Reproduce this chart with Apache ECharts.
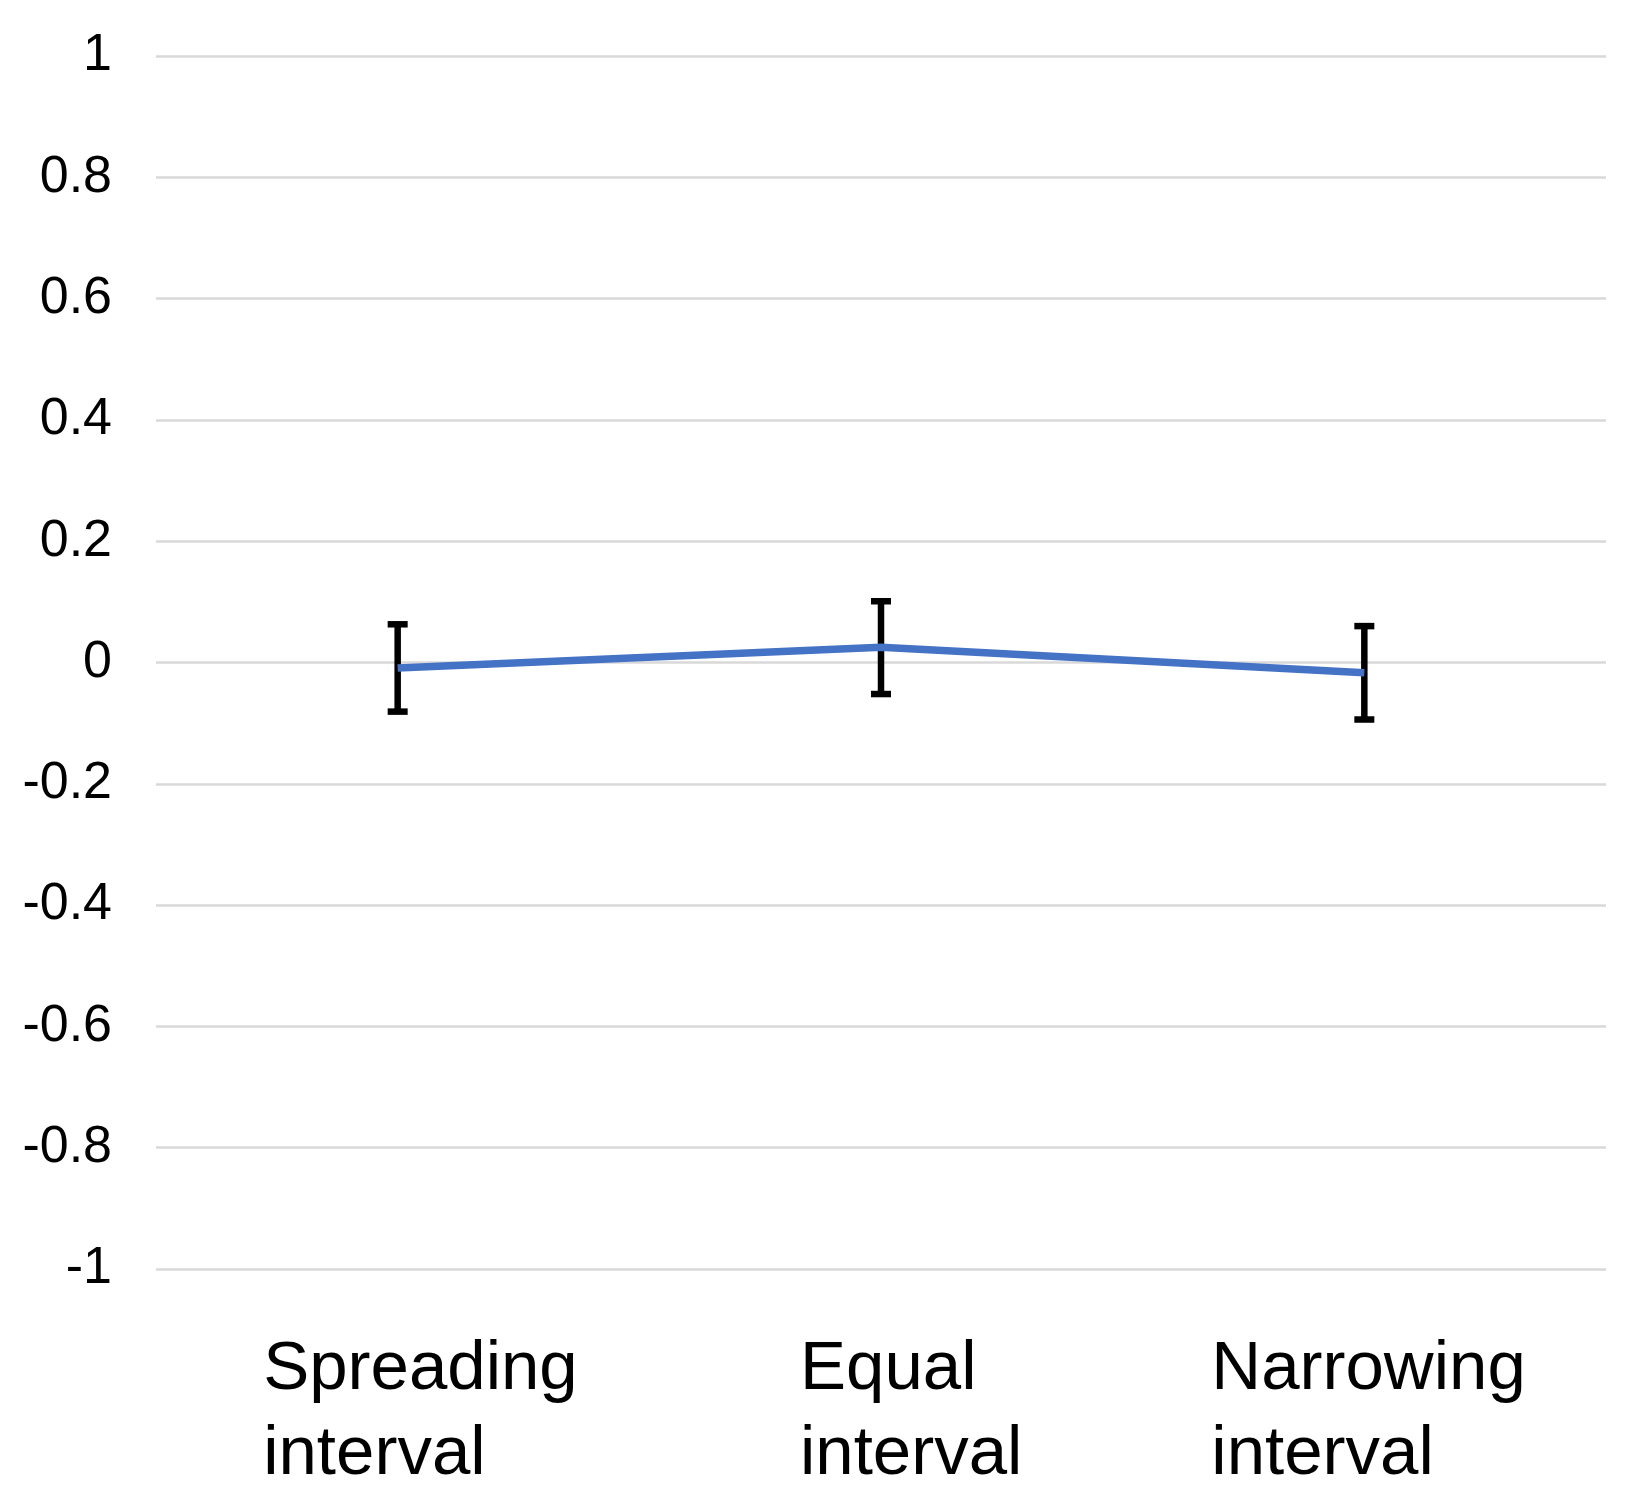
<!DOCTYPE html>
<html>
<head>
<meta charset="utf-8">
<script src="https://cdn.jsdelivr.net/npm/echarts@6/dist/echarts.min.js"></script>
<style>
html,body{margin:0;padding:0;background:#fff;}
#chart{width:1632px;height:1498px;}
</style>
</head>
<body>
<div id="chart"></div>
<script>
const categories = ['Spreading interval', 'Equal interval', 'Narrowing interval'];
const means = [-0.009, 0.025, -0.017];
const lowerBounds = [-0.081, -0.052, -0.094];
const upperBounds = [0.063, 0.101, 0.060];
const yTicks = [-1, -0.8, -0.6, -0.4, -0.2, 0, 0.2, 0.4, 0.6, 0.8, 1];

const labelBlockWidths = [269, 162, 306];

const chart = echarts.init(document.getElementById('chart'), null, {renderer: 'canvas'});

const rich = {};
labelBlockWidths.forEach((w, i) => {
  rich['l' + i] = {
    width: w,
    align: 'left',
    fontSize: 69,
    lineHeight: 85,
    fontFamily: '"Liberation Sans", Arial, sans-serif',
    color: '#000'
  };
});

const errData = categories.map((c, i) => [i, lowerBounds[i], upperBounds[i]]);

const option = {
  backgroundColor: '#ffffff',
  animation: false,
  grid: {left: 156, right: 26, top: 56, bottom: 229, containLabel: false},
  xAxis: {
    type: 'category',
    data: categories,
    boundaryGap: true,
    axisLine: {show: false},
    axisTick: {show: false},
    splitLine: {show: false},
    axisLabel: {
      interval: 0,
      margin: 58,
      align: 'center',
      verticalAlign: 'top',
      formatter: function (value, idx) {
        return value.split(' ').map(s => '{l' + idx + '|' + s + '}').join('\n');
      },
      rich: rich
    }
  },
  yAxis: {
    type: 'value',
    min: yTicks[0],
    max: yTicks[yTicks.length - 1],
    interval: 0.2,
    axisLine: {show: false},
    axisTick: {show: false},
    splitLine: {show: true, lineStyle: {color: '#d9d9d9', width: 2.5}},
    axisLabel: {
      margin: 44,
      fontSize: 52,
      color: '#000',
      fontFamily: '"Liberation Sans", Arial, sans-serif',
      formatter: function (v) {
        const r = Math.round(v * 10) / 10;
        return String(r);
      }
    }
  },
  series: [
    {
      type: 'custom',
      z: 2,
      data: errData,
      renderItem: function (params, api) {
        const x = api.value(0);
        const lo = api.coord([x, api.value(1)]);
        const hi = api.coord([x, api.value(2)]);
        const half = 10;
        const style = {stroke: '#000', lineWidth: 6.5};
        return {
          type: 'group',
          children: [
            {type: 'line', shape: {x1: lo[0], y1: lo[1], x2: hi[0], y2: hi[1]}, style: style},
            {type: 'line', shape: {x1: hi[0] - half, y1: hi[1], x2: hi[0] + half, y2: hi[1]}, style: style},
            {type: 'line', shape: {x1: lo[0] - half, y1: lo[1], x2: lo[0] + half, y2: lo[1]}, style: style}
          ]
        };
      }
    },
    {
      type: 'line',
      z: 3,
      data: means,
      showSymbol: false,
      symbol: 'none',
      lineStyle: {color: '#4472C4', width: 7.5},
      itemStyle: {color: '#4472C4'}
    }
  ]
};

chart.setOption(option);
</script>
</body>
</html>
